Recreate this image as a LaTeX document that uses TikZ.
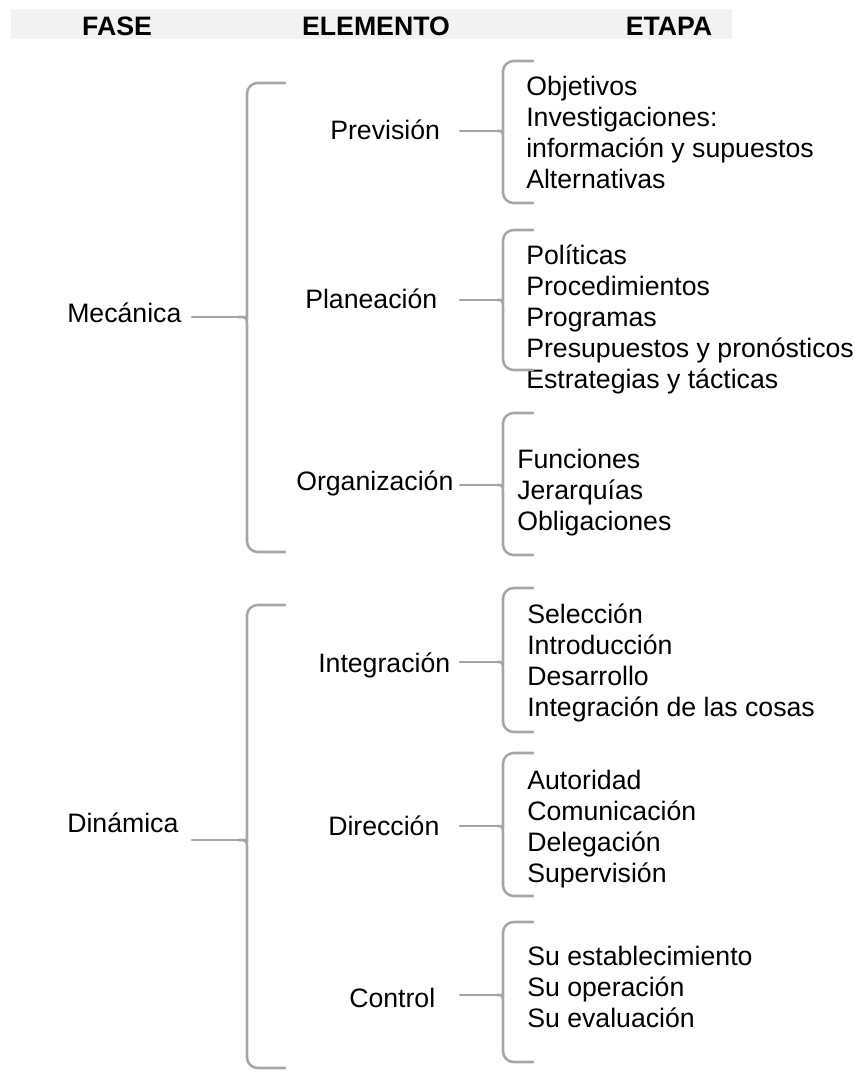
\documentclass[tikz,border=0pt]{standalone}
\usepackage{fontspec}
\setmainfont{Liberation Sans}
\usetikzlibrary{positioning}

\definecolor{llavegris}{RGB}{166,166,166}
\definecolor{franja}{RGB}{242,242,242}

\tikzset{
  llave/.style={draw=llavegris, line width=1.9pt, line cap=round},
  titulo/.style={font=\fontsize{20pt}{24pt}\selectfont\bfseries, anchor=base, inner sep=0pt},
  fase/.style={font=\fontsize{20pt}{24pt}\selectfont, anchor=base west, inner sep=0pt},
  elemento/.style={font=\fontsize{20pt}{24pt}\selectfont, anchor=base west, inner sep=0pt},
  etapa/.style={font=\fontsize{20pt}{23.25pt}\selectfont, anchor=base west, align=left, inner sep=0pt},
}

% #1 tip x, #2 tip y, #3 stem x, #4 hook x, #5 top y, #6 bottom y
\newcommand{\llave}[6]{%
  \draw[llave] (#4,#5) [rounded corners=8pt] -- (#3,#5) -- (#3,#2-10)
    [sharp corners] .. controls (#3,#2) .. (#1,#2)
    .. controls (#3,#2) .. (#3,#2+10)
    [rounded corners=8pt] -- (#3,#6) -- (#4,#6);}

\begin{document}
\begin{tikzpicture}[x=0.75pt, y=-0.75pt]

    \useasboundingbox (0,0) rectangle (861,1072);

    % Header
    \fill[franja] (11,9) rectangle (732,39);
    \node[titulo] (hfase) at (117,35) {FASE};
    \node[titulo] (helem) at (376,35) {ELEMENTO};
    \node[titulo] (hetapa) at (669,35) {ETAPA};

    % Columns for the connectors
    \coordinate (faseCol) at (192,0);
    \coordinate (elemCol) at (460,0);

    % Fases
    \node[fase] (mec) at (67,322) {Mecánica};
    \node[fase] (din) at (67,832) {Dinámica};

    % Elementos
    \node[elemento] (prev) at (330,139) {Previsión};
    \node[elemento] (plan) at (305,308) {Planeación};
    \node[elemento] (org)  at (296,490) {Organización};
    \node[elemento] (inte) at (318,672) {Integración};
    \node[elemento] (dir)  at (328,835) {Dirección};
    \node[elemento] (ctrl) at (349,1007) {Control};

    % Etapas (anchored at the baseline of the last line)
    \node[etapa] (prevE) at (526,188)  {Objetivos\\Investigaciones:\\información y supuestos\\Alternativas};
    \node[etapa] (planE) at (526,388)  {Políticas\\Procedimientos\\Programas\\Presupuestos y pronósticos\\Estrategias y tácticas};
    \node[etapa] (orgE)  at (517,530)  {Funciones\\Jerarquías\\Obligaciones};
    \node[etapa] (inteE) at (527,716)  {Selección\\Introducción\\Desarrollo\\Integración de las cosas};
    \node[etapa] (dirE)  at (527,882)  {Autoridad\\Comunicación\\Delegación\\Supervisión};
    \node[etapa] (ctrlE) at (527,1027) {Su establecimiento\\Su operación\\Su evaluación};

    % Brace tips
    \coordinate (mecT) at (238,317);
    \coordinate (dinT) at (238,840);
    \coordinate (prevT) at (497,131);
    \coordinate (planT) at (497,300);
    \coordinate (orgT)  at (497,485);
    \coordinate (inteT) at (497,662);
    \coordinate (dirT)  at (497,826);
    \coordinate (ctrlT) at (497,995);

    % Braces
    \llave{238}{317}{247}{285}{83}{552}
    \llave{238}{840}{247}{285}{605}{1068}
    \llave{497}{131}{503}{533}{61}{203}
    \llave{497}{300}{503}{533}{230}{370}
    \llave{497}{485}{503}{533}{413}{555}
    \llave{497}{662}{503}{533}{588}{732}
    \llave{497}{826}{503}{533}{753}{896}
    \llave{497}{995}{503}{533}{922}{1062}

    % Connect the nodes
    \draw[llave] (faseCol |- mecT) -- (mecT);
    \draw[llave] (faseCol |- dinT) -- (dinT);
    \draw[llave] (elemCol |- prevT) -- (prevT);
    \draw[llave] (elemCol |- planT) -- (planT);
    \draw[llave] (elemCol |- orgT) -- (orgT);
    \draw[llave] (elemCol |- inteT) -- (inteT);
    \draw[llave] (elemCol |- dirT) -- (dirT);
    \draw[llave] (elemCol |- ctrlT) -- (ctrlT);

\end{tikzpicture}
\end{document}
